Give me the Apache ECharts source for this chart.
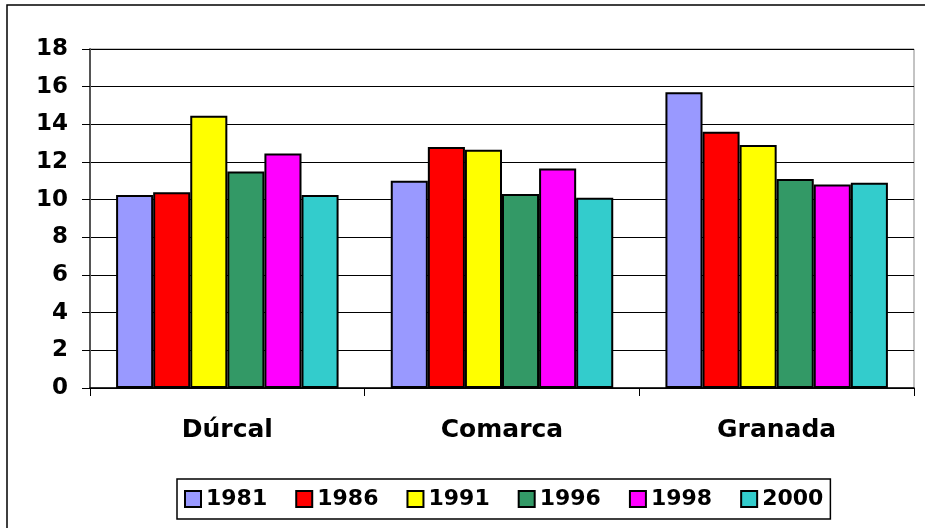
<!DOCTYPE html>
<html>
<head>
<meta charset="utf-8">
<script src="https://cdn.jsdelivr.net/npm/echarts@6/dist/echarts.min.js"></script>
<style>
  html, body { margin: 0; padding: 0; background: #fff; }
  #chart { width: 925px; height: 528px; }
</style>
</head>
<body>
<div id="chart"></div>
<script>
const categories = ["Dúrcal", "Comarca", "Granada"];
const years = ["1981", "1986", "1991", "1996", "1998", "2000"];
const colors = ["#9999FF", "#FF0000", "#FFFF00", "#339966", "#FF00FF", "#33CCCC"];

const v1981 = [10.25, 11.0, 15.7];
const v1986 = [10.4, 12.8, 13.6];
const v1991 = [14.45, 12.65, 12.9];
const v1996 = [11.5, 10.3, 11.1];
const v1998 = [12.45, 11.65, 10.8];
const v2000 = [10.25, 10.1, 10.9];
const values = [v1981, v1986, v1991, v1996, v1998, v2000];

const font = "DejaVu Sans";

const chart = echarts.init(document.getElementById("chart"));

chart.setOption({
  animation: false,
  backgroundColor: "#fff",
  graphic: [
    {
      type: "rect",
      shape: { x: 7, y: 5, width: 940, height: 540 },
      style: { fill: "none", stroke: "#000", lineWidth: 1.5 },
      silent: true,
    },
  ],
  grid: {
    left: 90,
    right: 11,
    top: 49,
    bottom: 140,
    show: true,
    borderColor: "#888",
    borderWidth: 1,
  },
  legend: {
    left: 177,
    top: 479,
    itemWidth: 16,
    itemHeight: 16,
    itemGap: 28,
    padding: [9, 7],
    borderColor: "#000",
    borderWidth: 1.5,
    icon: "rect",
    textStyle: {
      fontFamily: font,
      fontWeight: "bold",
      fontSize: 22,
      color: "#000",
    },
    data: years,
  },
  xAxis: {
    type: "category",
    data: categories,
    axisLine: { lineStyle: { color: "#000", width: 1.5 } },
    axisTick: { show: true, length: 8, lineStyle: { color: "#000" } },
    axisLabel: {
      margin: 30,
      fontFamily: font,
      fontWeight: "bold",
      fontSize: 25,
      color: "#000",
    },
  },
  yAxis: {
    type: "value",
    min: 0,
    max: 18,
    interval: 2,
    axisLine: { show: true, lineStyle: { color: "#555", width: 2 } },
    axisTick: { show: true, length: 8, lineStyle: { color: "#000" } },
    splitLine: { lineStyle: { color: "#000", width: 1 } },
    axisLabel: {
      margin: 22,
      fontFamily: font,
      fontWeight: "bold",
      fontSize: 23,
      color: "#000",
    },
  },
  series: years.map((y, i) => ({
    name: y,
    type: "bar",
    data: values[i],
    barGap: "0%",
    barCategoryGap: "19%",
    itemStyle: {
      color: colors[i],
      borderColor: "#000",
      borderWidth: 2,
    },
  })),
});
</script>
</body>
</html>
